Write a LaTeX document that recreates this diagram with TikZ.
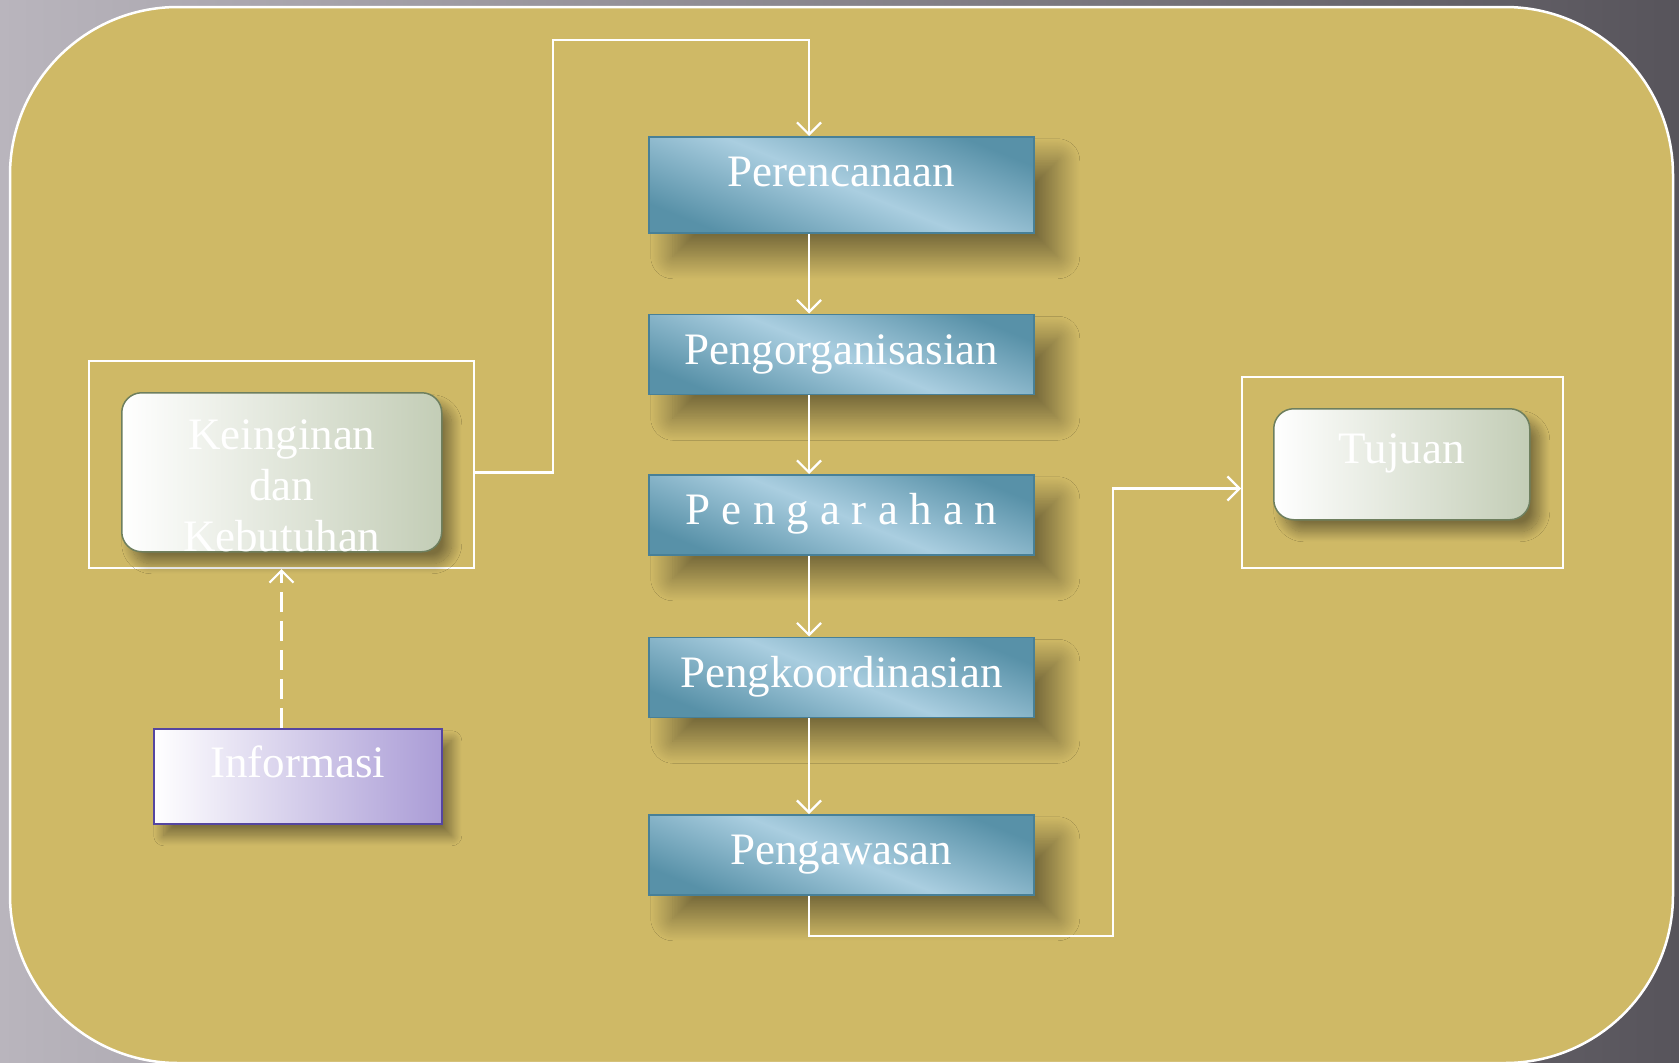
\documentclass[tikz,border=0pt]{standalone}
\usepackage{fontspec}
\setmainfont{Liberation Serif}
\usetikzlibrary{arrows.meta,calc,positioning,shadows.blur}
\definecolor{gold}{RGB}{207,185,102}
\definecolor{greylight}{RGB}{185,181,189}
\definecolor{greydark}{RGB}{87,84,91}
\definecolor{bluedark}{RGB}{88,145,168}
\definecolor{bluelight}{RGB}{170,206,224}
\definecolor{bluerim}{RGB}{72,128,151}
\definecolor{paleend}{RGB}{195,205,182}
\definecolor{palerim}{RGB}{110,127,94}
\definecolor{lavend}{RGB}{170,156,214}
\definecolor{lavrim}{RGB}{85,70,160}
\newcommand{\boxfont}{\fontsize{45}{51}\selectfont}
\tikzset{
  stepbox/.style={draw=bluerim,line width=1.5pt,top color=bluedark,bottom color=bluedark,
    middle color=bluelight,shading angle=-22,minimum width=385pt,inner sep=0pt,
    text height=50pt,text depth=30pt,text=white,font=\boxfont,
    blur shadow={shadow xshift=24pt,shadow yshift=-24pt,shadow blur radius=22pt,
      shadow blur steps=30,shadow opacity=42}},
  softbox/.style={draw=palerim,line width=1.5pt,left color=white,right color=paleend,
    rounded corners=20pt,inner sep=0pt,text=white,font=\boxfont,
    blur shadow={shadow xshift=10pt,shadow yshift=-12pt,shadow blur radius=10pt,
      shadow blur steps=20,shadow opacity=40}},
  infobox/.style={draw=lavrim,line width=1.5pt,left color=white,right color=lavend,
    inner sep=0pt,text=white,font=\boxfont,
    blur shadow={shadow xshift=10pt,shadow yshift=-12pt,shadow blur radius=10pt,
      shadow blur steps=20,shadow opacity=40}},
  framebox/.style={draw=white,line width=2pt,inner sep=0pt},
  linkline/.style={draw=white,line width=2.2pt,-{Straight Barb[length=12pt,width=24pt]}},
  dashlink/.style={linkline,dash pattern=on 20pt off 9pt},
}

\begin{document}
\begin{tikzpicture}[x=1pt,y=-1pt]
    \useasboundingbox (0,0) rectangle (1679,1063);
    % --- background ---
    \shade[left color=greylight,right color=greydark] (0,0) rectangle (1679,1063);
    \draw[white,line width=2.5pt,fill=gold,rounded corners=168pt] (10,7) rectangle (1673,1063);
    % --- frames ---
    \node[framebox,minimum width=385pt,minimum height=207pt,anchor=north west] (inginframe) at (88,360) {};
    \node[framebox,minimum width=321pt,minimum height=191pt,anchor=north west] (tujuanframe) at (1241,376) {};
    % --- the five steps ---
    \node[stepbox,text depth=46pt,anchor=north west] (perenc) at (648,136) {Perencanaan};
    \node[stepbox,below=80pt of perenc] (organ) {Pengorganisasian};
    \node[stepbox,below=79pt of organ] (arah) {P e n g a r a h a n};
    \node[stepbox,below=81pt of arah] (koord) {Pengkoordinasian};
    \node[stepbox,below=96pt of koord] (awas) {Pengawasan};
    % --- side boxes ---
    \node[softbox,minimum width=320pt,align=center,text height=159pt,text depth=-16pt,anchor=north west] (ingin) at (121,392) {Keinginan\\dan\\Kebutuhan};
    \node[softbox,minimum width=256pt,text height=55pt,text depth=56pt,anchor=north west] (tujuan) at (1273,408) {Tujuan};
    \node[infobox,minimum width=288pt,text height=49pt,text depth=46pt,anchor=north west] (info) at (153,728) {Informasi};
    % --- connectors ---
    \coordinate (spine) at (809,0);
    \coordinate (toprun) at (553,40);
    \coordinate (botrun) at (1113,936);
    \draw[linkline] ([yshift=-8pt]inginframe.east) -| (toprun) -| (perenc.north -| spine);
    \draw[linkline] (perenc.south -| spine) -- (organ.north -| spine);
    \draw[linkline] (organ.south -| spine) -- (arah.north -| spine);
    \draw[linkline] (arah.south -| spine) -- (koord.north -| spine);
    \draw[linkline] (koord.south -| spine) -- (awas.north -| spine);
    \draw[linkline] (awas.south -| spine) |- (botrun) |- ([yshift=-16pt]tujuanframe.west);
    \draw[dashlink] (inginframe.south |- info.north) -- (inginframe.south);
  \end{tikzpicture}
\end{document}
